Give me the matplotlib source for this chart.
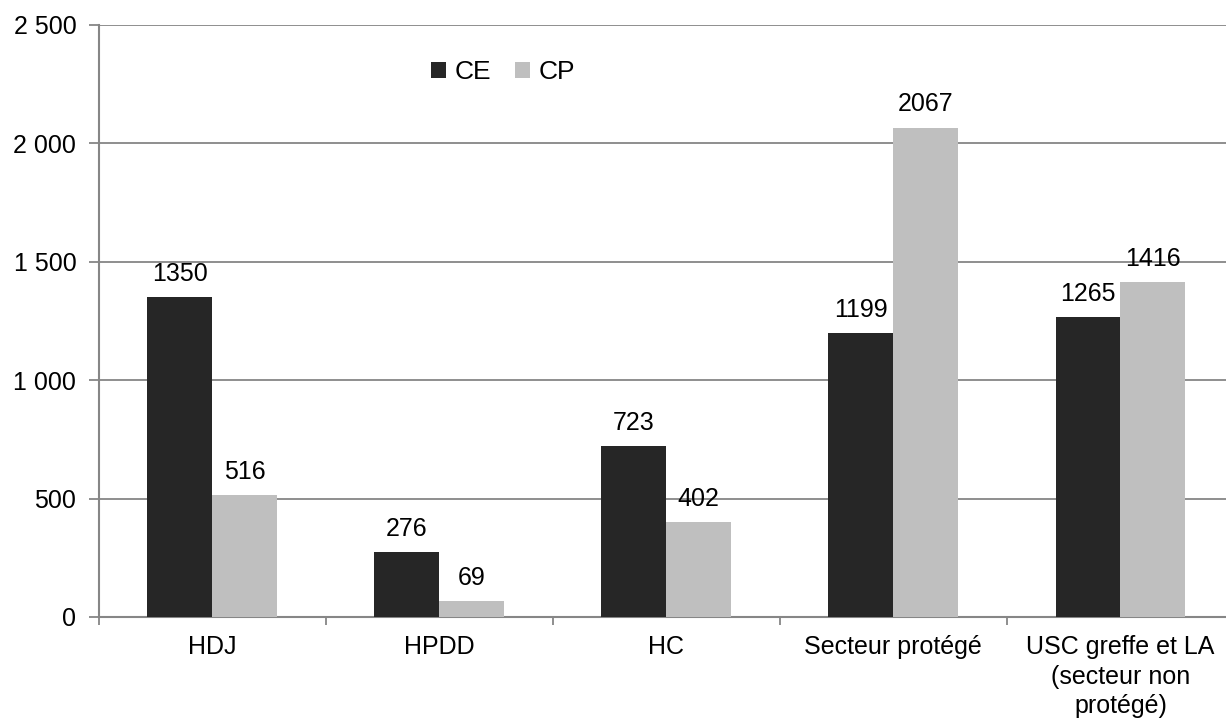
import matplotlib
matplotlib.use("Agg")
import matplotlib.pyplot as plt
import numpy as np

categories = ["HDJ", "HPDD", "HC", "Secteur protégé", "USC greffe et LA\n(secteur non\nprotégé)"]
ce_values = [1350, 276, 723, 1199, 1265]
cp_values = [516, 69, 402, 2067, 1416]
series_names = ["CE", "CP"]
yticks = [0, 500, 1000, 1500, 2000, 2500]
ytick_labels = ["0", "500", "1 000", "1 500", "2 000", "2 500"]

plt.rcParams['font.family'] = ['Liberation Sans', 'DejaVu Sans']

W, H = 1226, 720
fig = plt.figure(figsize=(W / 100, H / 100), dpi=100)
left, right, top, bottom = 98.5, 1234, 25, 617
ax = fig.add_axes([left / W, 1 - bottom / H, (right - left) / W, (bottom - top) / H])

dark = "#262626"
light = "#bfbfbf"
grid_c = "#868686"
fs = 18

x = np.arange(len(categories))
bw = 1 / 3.5
b1 = ax.bar(x - bw / 2, ce_values, bw, color=dark, label=series_names[0], zorder=3)
b2 = ax.bar(x + bw / 2, cp_values, bw, color=light, label=series_names[1], zorder=3)

for bars, vals in ((b1, ce_values), (b2, cp_values)):
    for r, v in zip(bars, vals):
        ax.annotate(str(v), (r.get_x() + r.get_width() / 2, v), xytext=(0, 8),
                    textcoords="offset points", ha="center", va="bottom", fontsize=fs)

ax.set_xlim(-0.5, len(categories) - 0.5)
ax.set_ylim(0, 2500)
ax.set_yticks(yticks)
ax.set_yticklabels(ytick_labels, fontsize=fs)
ax.yaxis.grid(True, color=grid_c, linewidth=1.3, zorder=0)
ax.set_axisbelow(True)

ax.set_xticks(x)
ax.set_xticklabels(categories, fontsize=fs, linespacing=1.3)
ax.tick_params(axis='x', which='major', length=0, pad=13)
ax.set_xticks(np.arange(len(categories)) - 0.5, minor=True)
ax.tick_params(axis='x', which='minor', length=6, color=grid_c, width=1.3)
ax.tick_params(axis='y', length=7, color=grid_c, width=1.3, pad=9)

for s in ("top", "right"):
    ax.spines[s].set_visible(False)
for s in ("left", "bottom"):
    ax.spines[s].set_color(grid_c)
    ax.spines[s].set_linewidth(1.5)

ax.legend(loc="upper left", bbox_to_anchor=((431 - left) / (right - left), 1 - (60 - top) / (bottom - top)),
          ncol=2, frameon=False, fontsize=fs + 1, handlelength=0.55, handleheight=0.55,
          handletextpad=0.35, columnspacing=0.9, borderaxespad=0, borderpad=0)

fig.savefig("out.png", dpi=100)
